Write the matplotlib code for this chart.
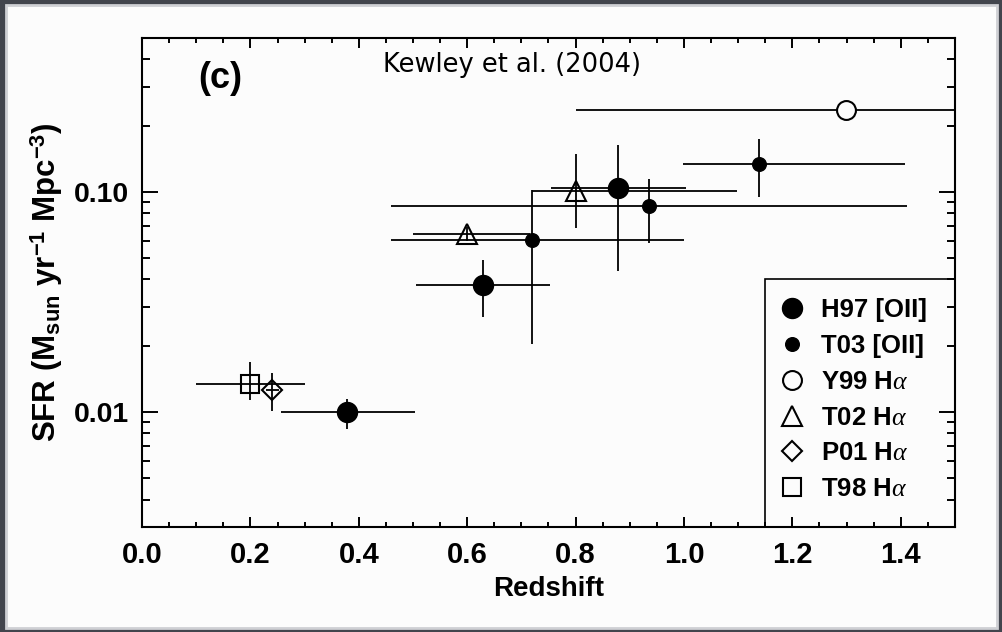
import numpy as np
import matplotlib.pyplot as plt
from matplotlib.patches import Rectangle
from matplotlib.lines import Line2D
from matplotlib.ticker import FixedLocator, FixedFormatter, LogLocator, MultipleLocator, NullFormatter

plt.rcParams['mathtext.fontset'] = 'custom'
plt.rcParams['mathtext.rm'] = 'Liberation Sans:bold'
plt.rcParams['mathtext.bf'] = 'Liberation Sans:bold'
plt.rcParams['mathtext.it'] = 'Liberation Serif:italic'

# H97 [OII] - large filled circles
h97_z = [0.379, 0.629, 0.879]
h97_sfr = [0.0100, 0.0379, 0.104]
h97_zlo = [0.256, 0.505, 0.755]
h97_zhi = [0.504, 0.753, 1.003]
h97_slo = [0.00837, 0.0269, 0.0438]
h97_shi = [0.0115, 0.0490, 0.164]

# T03 [OII] - small filled circles
t03_z = [0.719, 0.936, 1.138]
t03_sfr = [0.0603, 0.0864, 0.1345]
t03_zlo = [0.46, 0.46, 0.998]
t03_zhi = [1.0, 1.412, 1.407]
t03_slo = [0.0204, 0.0584, 0.0949]
t03_shi = [0.1017, 0.114, 0.174]

# Y99 Halpha - open circle
y99_z = [1.298]
y99_sfr = [0.235]
y99_zlo = [0.80]
y99_zhi = [1.80]

# T02 Halpha - open triangles
t02_z = [0.599, 0.80]
t02_sfr = [0.0644, 0.101]
t02_zlo = [0.50, 0.72]
t02_zhi = [0.715, 1.097]
t02_slo = [0.0600, 0.0684]
t02_shi = [0.0690, 0.148]

# P01 Halpha - open diamond
p01_z = [0.240]
p01_sfr = [0.01256]
p01_zlo = [0.228]
p01_zhi = [0.252]
p01_slo = [0.01005]
p01_shi = [0.01503]

# T98 Halpha - open square
t98_z = [0.200]
t98_sfr = [0.01345]
t98_zlo = [0.10]
t98_zhi = [0.30]
t98_slo = [0.01137]
t98_shi = [0.01687]

labels = ['H97 [OII]', 'T03 [OII]', r'Y99 H$\alpha$', r'T02 H$\alpha$', r'P01 H$\alpha$', r'T98 H$\alpha$']


def errs(x, lo, hi):
    x = np.asarray(x)
    return [x - np.asarray(lo), np.asarray(hi) - x]


fig = plt.figure(figsize=(10.03, 6.32), dpi=100)
fig.patch.set_facecolor('#42454d')
fig.patches.append(Rectangle((6 / 1003, 4 / 632), 991 / 1003, 623 / 632, transform=fig.transFigure,
                             facecolor='#fcfcfc', edgecolor='#cfd0d4', lw=2, zorder=-5))

ax = fig.add_axes([142 / 1003, 1 - 527 / 632, 813 / 1003, 489 / 632])
ax.set_facecolor('#fcfcfc')

eb = dict(ls='none', ecolor='black', elinewidth=1.3, capsize=0, color='black')
ax.errorbar(h97_z, h97_sfr, xerr=errs(h97_z, h97_zlo, h97_zhi), yerr=errs(h97_sfr, h97_slo, h97_shi),
            marker='o', ms=14.4, mfc='black', mec='black', **eb)
ax.errorbar(t03_z, t03_sfr, xerr=errs(t03_z, t03_zlo, t03_zhi), yerr=errs(t03_sfr, t03_slo, t03_shi),
            marker='o', ms=9.8, mfc='black', mec='black', **eb)
ax.errorbar(y99_z, y99_sfr, xerr=errs(y99_z, y99_zlo, y99_zhi),
            marker='o', ms=13.6, mfc='#fcfcfc', mec='black', mew=1.5, **eb)
ax.errorbar(t02_z, t02_sfr, xerr=errs(t02_z, t02_zlo, t02_zhi), yerr=errs(t02_sfr, t02_slo, t02_shi),
            marker='^', ms=14, mfc='none', mec='black', mew=1.5, **eb)
ax.errorbar(p01_z, p01_sfr, xerr=errs(p01_z, p01_zlo, p01_zhi), yerr=errs(p01_sfr, p01_slo, p01_shi),
            marker='D', ms=10.3, mfc='none', mec='black', mew=1.5, **eb)
ax.errorbar(t98_z, t98_sfr, xerr=errs(t98_z, t98_zlo, t98_zhi), yerr=errs(t98_sfr, t98_slo, t98_shi),
            marker='s', ms=13, mfc='none', mec='black', mew=1.5, **eb)

ax.set_xlim(0, 1.5)
ax.set_yscale('log')
ax.set_ylim(0.003, 0.5)

tick_font = dict(family='Liberation Sans', weight='bold')
ax.xaxis.set_minor_locator(MultipleLocator(0.05))
ax.set_xticks(np.arange(0, 1.41, 0.2))
ax.set_xticklabels([f'{v:.1f}' for v in np.arange(0, 1.41, 0.2)], fontsize=21, **tick_font)
ax.yaxis.set_major_locator(FixedLocator([0.01, 0.1]))
ax.yaxis.set_major_formatter(FixedFormatter(['0.01', '0.10']))
ax.yaxis.set_minor_locator(LogLocator(base=10, subs=np.arange(2, 10)))
ax.yaxis.set_minor_formatter(NullFormatter())
for lab in ax.get_yticklabels():
    lab.set_fontsize(20.5)
    lab.set_fontfamily('Liberation Sans')
    lab.set_fontweight('bold')

ax.tick_params(axis='both', which='both', direction='in', top=True, right=True, width=1.4, color='black')
ax.tick_params(axis='x', which='major', length=7, pad=10)
ax.tick_params(axis='x', which='minor', length=3.6)
ax.tick_params(axis='y', which='major', length=11.5, pad=9)
ax.tick_params(axis='y', which='minor', length=5.8)
for sp in ax.spines.values():
    sp.set_linewidth(1.5)

ax.set_xlabel('Redshift', fontsize=20, labelpad=5, **tick_font)
ax.set_ylabel(r'SFR (M$_{\mathrm{sun}}$ yr$^{\mathrm{-1}}$ Mpc$^{\mathrm{-3}}$)', fontsize=22.5, labelpad=7, **tick_font)

ax.text(0.096, 0.918, '(c)', transform=ax.transAxes, ha='center', va='center', fontsize=26, **tick_font)
ax.text(0.455, 0.945, 'Kewley et al. (2004)', transform=ax.transAxes, ha='center', va='center',
        fontsize=18.5, family='DejaVu Sans')

# legend box drawn against the lower right corner of the axes
ax.add_patch(Rectangle((0.7663, 0.0), 1 - 0.7663, 0.5065, transform=ax.transAxes,
                       facecolor='none', edgecolor='black', lw=1.2, zorder=3))
handles = [
    Line2D([], [], ls='none', marker='o', ms=14.4, mfc='black', mec='black'),
    Line2D([], [], ls='none', marker='o', ms=9.8, mfc='black', mec='black'),
    Line2D([], [], ls='none', marker='o', ms=13.6, mfc='none', mec='black', mew=1.5),
    Line2D([], [], ls='none', marker='^', ms=14, mfc='none', mec='black', mew=1.5),
    Line2D([], [], ls='none', marker='D', ms=10.3, mfc='none', mec='black', mew=1.5),
    Line2D([], [], ls='none', marker='s', ms=13, mfc='none', mec='black', mew=1.5),
]
ax.legend(handles, labels, loc='upper left', bbox_to_anchor=(0.7841, 0.468), frameon=False,
          borderpad=0, borderaxespad=0, handlelength=1.0, handletextpad=0.6, labelspacing=0.46,
          prop=dict(family='Liberation Sans', weight='bold', size=18.5))

fig.savefig('out.png', dpi=100)
